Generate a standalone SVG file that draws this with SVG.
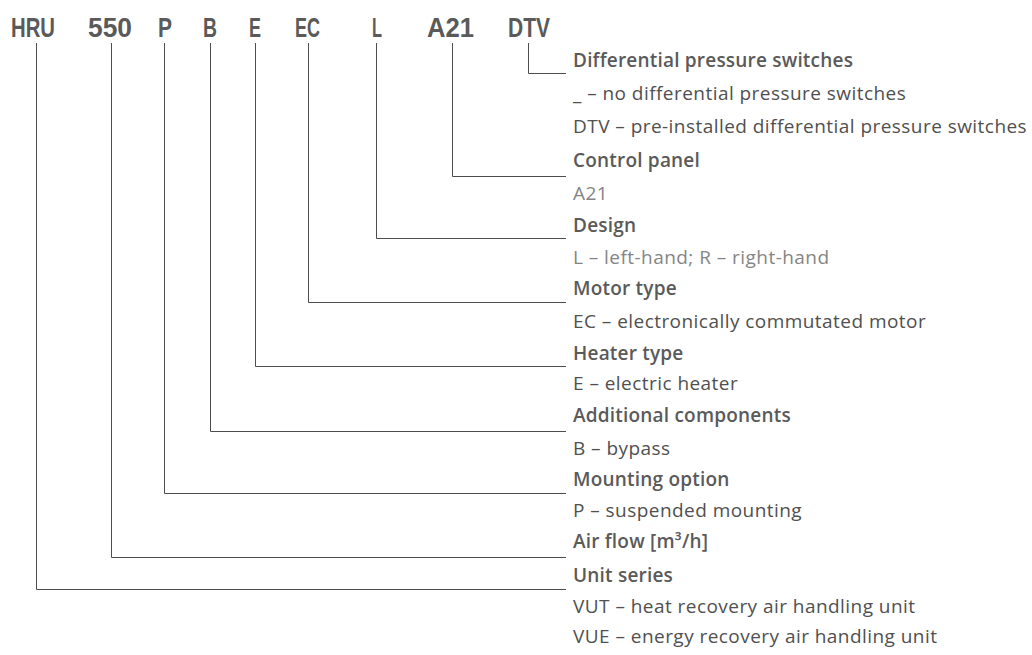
<svg xmlns="http://www.w3.org/2000/svg" width="1032" height="655" viewBox="0 0 1032 655">
<style>
.code{font-family:"Liberation Sans",Arial,sans-serif;font-weight:700;font-size:28px;fill:#5a5a5a;text-anchor:middle}
.hd{font-family:"Open Sans","Noto Sans",sans-serif;font-weight:600;font-size:19px;letter-spacing:0.2px;fill:#5a5a5a}
.tx{font-family:"Open Sans","Noto Sans",sans-serif;font-weight:400;font-size:19px;letter-spacing:0.45px;fill:#505050}
.lt{fill:#858585}
.ln{fill:none;stroke:#4d4d4d;stroke-width:1}
</style>
<rect width="1032" height="655" fill="#ffffff"/>
<g id="connectors">
<path class="ln" d="M528.5 43V73.5H566"/>
<path class="ln" d="M452.5 43V176.5H566"/>
<path class="ln" d="M376.5 43V238.5H566"/>
<path class="ln" d="M308.5 43V302.5H566"/>
<path class="ln" d="M255.5 43V366.5H566"/>
<path class="ln" d="M210.5 43V431.5H566"/>
<path class="ln" d="M164.5 43V493.5H566"/>
<path class="ln" d="M111.5 43V557.5H566"/>
<path class="ln" d="M36.5 43V589.5H566"/>
</g>
<g id="code-HRU"><text class="code" x="33" y="37" textLength="44" lengthAdjust="spacingAndGlyphs">HRU</text></g>
<g id="code-550"><text class="code" x="110" y="37" textLength="44" lengthAdjust="spacingAndGlyphs">550</text></g>
<g id="code-P"><text class="code" x="165" y="37" textLength="14" lengthAdjust="spacingAndGlyphs">P</text></g>
<g id="code-B"><text class="code" x="210" y="37" textLength="14" lengthAdjust="spacingAndGlyphs">B</text></g>
<g id="code-E"><text class="code" x="255" y="37" textLength="12" lengthAdjust="spacingAndGlyphs">E</text></g>
<g id="code-EC"><text class="code" x="307.5" y="37" textLength="25" lengthAdjust="spacingAndGlyphs">EC</text></g>
<g id="code-L"><text class="code" x="377" y="37" textLength="10" lengthAdjust="spacingAndGlyphs">L</text></g>
<g id="code-A21"><text class="code" x="450.5" y="37" textLength="47" lengthAdjust="spacingAndGlyphs">A21</text></g>
<g id="code-DTV"><text class="code" x="529" y="37" textLength="42" lengthAdjust="spacingAndGlyphs">DTV</text></g>
<g id="desc-DTV">
<text class="hd" x="573" y="67">Differential pressure switches</text>
<text class="tx" x="573" y="100">_ – no differential pressure switches</text>
<text class="tx" x="573" y="133">DTV – pre-installed differential pressure switches</text>
</g>
<g id="desc-A21">
<text class="hd" x="573" y="167">Control panel</text>
<text class="tx lt" x="573" y="200">A21</text>
</g>
<g id="desc-L">
<text class="hd" x="573" y="232">Design</text>
<text class="tx lt" x="573" y="264">L – left-hand; R – right-hand</text>
</g>
<g id="desc-EC">
<text class="hd" x="573" y="295">Motor type</text>
<text class="tx" x="573" y="328">EC – electronically commutated motor</text>
</g>
<g id="desc-E">
<text class="hd" x="573" y="360">Heater type</text>
<text class="tx" x="573" y="390">E – electric heater</text>
</g>
<g id="desc-B">
<text class="hd" x="573" y="422">Additional components</text>
<text class="tx" x="573" y="455">B – bypass</text>
</g>
<g id="desc-P">
<text class="hd" x="573" y="486">Mounting option</text>
<text class="tx" x="573" y="517">P – suspended mounting</text>
</g>
<g id="desc-550">
<text class="hd" x="573" y="548">Air flow [m³/h]</text>
</g>
<g id="desc-HRU">
<text class="hd" x="573" y="582">Unit series</text>
<text class="tx" x="573" y="613">VUT – heat recovery air handling unit</text>
<text class="tx" x="573" y="643">VUE – energy recovery air handling unit</text>
</g>
</svg>
